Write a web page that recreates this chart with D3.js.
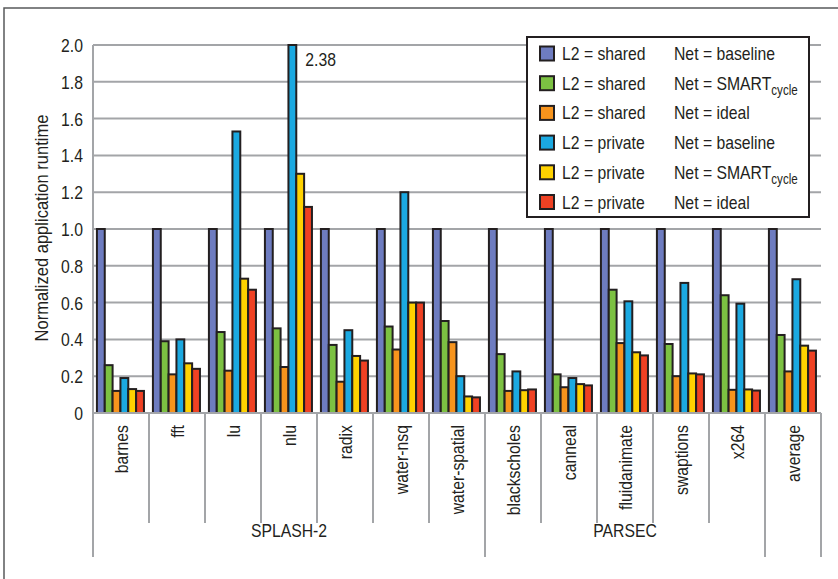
<!DOCTYPE html>
<html>
<head>
<meta charset="utf-8">
<script src="https://cdn.jsdelivr.net/npm/d3@7"></script>
<style>
  html, body { margin: 0; padding: 0; background: #fff; }
  svg text { font-family: "Liberation Sans", Arial, sans-serif; fill: #231f20; font-size: 19px; }
</style>
</head>
<body>
<svg id="chart" width="838" height="579"></svg>
<script>
// benchmarks along x, grouped by suite
const categories = ['barnes', 'fft', 'lu', 'nlu', 'radix', 'water-nsq', 'water-spatial',
  'blackscholes', 'canneal', 'fluidanimate', 'swaptions', 'x264', 'average'];
const groups = [
  { name: 'SPLASH-2', from: 'barnes', to: 'water-spatial' },
  { name: 'PARSEC', from: 'blackscholes', to: 'x264' },
  { name: '', from: 'average', to: 'average' }
];

const seriesNames = ['sharedBaseline', 'sharedSmart', 'sharedIdeal', 'privateBaseline', 'privateSmart', 'privateIdeal'];
const seriesL2 = ['shared', 'shared', 'shared', 'private', 'private', 'private'];
const seriesNet = ['baseline', 'SMART', 'ideal', 'baseline', 'SMART', 'ideal'];
const seriesColors = ['#6e7cc0', '#7cc142', '#f7941d', '#1ba9e1', '#ffd200', '#ef4123'];

const sharedBaseline  = [1, 1, 1, 1, 1, 1, 1, 1, 1, 1, 1, 1, 1];
const sharedSmart     = [0.26, 0.39, 0.44, 0.46, 0.37, 0.47, 0.50, 0.32, 0.21, 0.67, 0.375, 0.64, 0.424];
const sharedIdeal     = [0.12, 0.21, 0.23, 0.25, 0.17, 0.345, 0.385, 0.12, 0.14, 0.38, 0.20, 0.126, 0.226];
const privateBaseline = [0.19, 0.40, 1.53, 2.38, 0.45, 1.20, 0.20, 0.226, 0.19, 0.607, 0.707, 0.594, 0.727];
const privateSmart    = [0.13, 0.27, 0.73, 1.30, 0.31, 0.60, 0.09, 0.124, 0.157, 0.33, 0.215, 0.128, 0.366];
const privateIdeal    = [0.12, 0.24, 0.67, 1.12, 0.285, 0.60, 0.085, 0.128, 0.15, 0.313, 0.21, 0.122, 0.339];
const seriesValues = [sharedBaseline, sharedSmart, sharedIdeal, privateBaseline, privateSmart, privateIdeal];

const yTicks = [0, 0.2, 0.4, 0.6, 0.8, 1.0, 1.2, 1.4, 1.6, 1.8, 2.0];
const yMax = 2.0;
const yTitle = 'Normalized application runtime';

const svg = d3.select('#chart');
const plot = { left: 93, right: 821, top: 45, bottom: 413 };
const gridColor = '#a3a5a8';
const strokeColor = '#231f20';
const narrow = 0.83; // squeeze Arial metrics toward a condensed face

// text at (px,py), rotated by rot degrees, horizontally condensed
function label(parent, px, py, str, anchor, rot, sx) {
  return parent.append('text')
    .attr('transform', `translate(${px},${py}) rotate(${rot || 0}) scale(${sx || narrow},1)`)
    .attr('text-anchor', anchor || 'start')
    .text(str);
}

// outer frame (cropped at right and bottom)
svg.append('rect')
  .attr('x', 4).attr('y', 8).attr('width', 900).attr('height', 700)
  .attr('fill', 'none').attr('stroke', '#58595b').attr('stroke-width', 1.5);

const x = d3.scaleBand().domain(categories).range([plot.left, plot.right]).padding(0);
const xs = d3.scaleBand().domain(seriesNames)
  .range([x.bandwidth() * 0.07, x.bandwidth() * 0.91]).padding(0);
const y = d3.scaleLinear().domain([0, yMax]).range([plot.bottom, plot.top]).clamp(true);

// gridlines
svg.append('g').selectAll('line').data(yTicks).join('line')
  .attr('x1', plot.left).attr('x2', plot.right)
  .attr('y1', d => y(d)).attr('y2', d => y(d))
  .attr('stroke', gridColor).attr('stroke-width', 2);

// y axis line + labels
svg.append('line')
  .attr('x1', plot.left).attr('x2', plot.left).attr('y1', y(0)).attr('y2', y(yMax))
  .attr('stroke', gridColor).attr('stroke-width', 2);
const yLab = svg.append('g');
yTicks.forEach(t => label(yLab, plot.left - 10, y(t) + 7, t === 0 ? '0' : d3.format('.1f')(t), 'end'));

label(svg, 48, (plot.top + plot.bottom) / 2 - 1, yTitle, 'middle', -90, 0.87);

// bars
const barData = [];
categories.forEach((c, i) => {
  seriesNames.forEach((s, j) => barData.push({ cat: c, series: s, value: seriesValues[j][i], color: seriesColors[j] }));
});
svg.append('g').selectAll('rect').data(barData).join('rect')
  .attr('x', d => x(d.cat) + xs(d.series))
  .attr('y', d => y(d.value))
  .attr('width', xs.bandwidth())
  .attr('height', d => y(0) - y(d.value))
  .attr('fill', d => d.color)
  .attr('stroke', strokeColor).attr('stroke-width', 2);

// value label for the clipped bar
barData.filter(d => d.value > yMax).forEach(d => {
  label(svg, x(d.cat) + xs(d.series) + xs.bandwidth() + 9, y(yMax) + 21, d3.format('.2f')(d.value));
});

// x axis baseline
svg.append('line')
  .attr('x1', plot.left).attr('x2', plot.right)
  .attr('y1', y(0)).attr('y2', y(0))
  .attr('stroke', gridColor).attr('stroke-width', 2);

// category dividers and labels
const catDividerBottom = 523;
const groupDividerBottom = 557;
const groupEdges = new Set();
groups.forEach(g => { groupEdges.add(x(g.from)); groupEdges.add(x(g.to) + x.bandwidth()); });
const edges = categories.map(c => x(c)).concat([plot.right]);
svg.append('g').selectAll('line').data(edges).join('line')
  .attr('x1', d => d).attr('x2', d => d)
  .attr('y1', y(0)).attr('y2', d => groupEdges.has(d) ? groupDividerBottom : catDividerBottom)
  .attr('stroke', gridColor).attr('stroke-width', 2);

const catLab = svg.append('g');
categories.forEach(c => label(catLab, x(c) + x.bandwidth() / 2 + 7, y(0) + 12, c, 'end', -90));

const grpLab = svg.append('g');
groups.filter(g => g.name).forEach(g =>
  label(grpLab, (x(g.from) + x(g.to) + x.bandwidth()) / 2, 537, g.name, 'middle'));

// legend
const legend = svg.append('g');
legend.append('rect')
  .attr('x', 527).attr('y', 37).attr('width', 282).attr('height', 180)
  .attr('fill', '#fff').attr('stroke', strokeColor).attr('stroke-width', 2);
seriesNames.forEach((s, i) => {
  const cy = 53.5 + i * 29.7;
  legend.append('rect')
    .attr('x', 540).attr('y', cy - 7).attr('width', 14).attr('height', 14)
    .attr('fill', seriesColors[i]).attr('stroke', strokeColor).attr('stroke-width', 2);
  label(legend, 562, cy + 6.5, `L2 = ${seriesL2[i]}`);
  const t = label(legend, 674, cy + 6.5, `Net = ${seriesNet[i]}`);
  if (seriesNet[i] === 'SMART') {
    t.append('tspan').attr('dy', 5).style('font-size', '14px').text('cycle');
  }
});
</script>
</body>
</html>
